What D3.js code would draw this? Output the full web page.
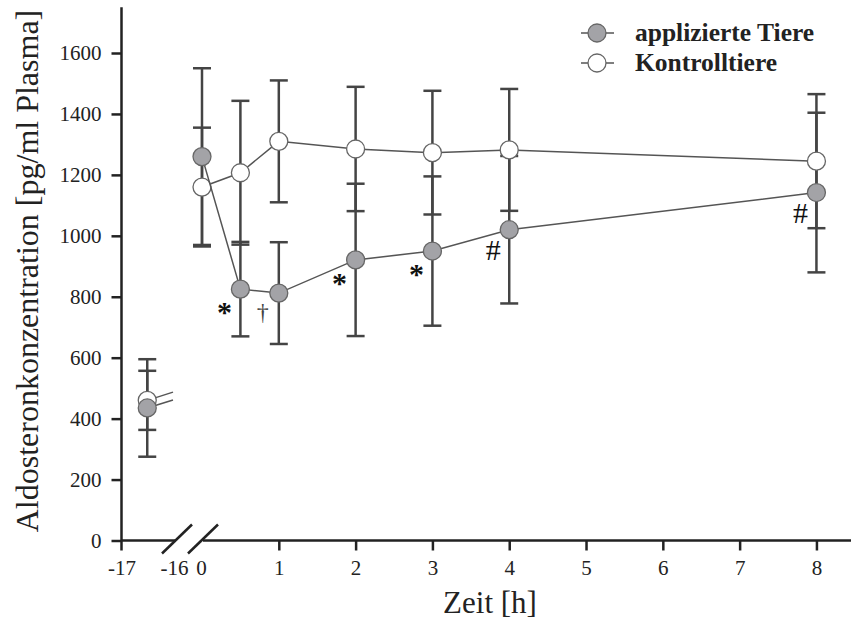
<!DOCTYPE html>
<html>
<head>
<meta charset="utf-8">
<script src="https://cdn.jsdelivr.net/npm/d3@7"></script>
<style>
  body { margin: 0; background: #fff; }
  svg text { font-family: "Liberation Serif", "Times New Roman", serif; fill: #222; }
  svg .tick text { font-size: 21px; }
</style>
</head>
<body>
<div id="chart"></div>
<script>
// time points after application (h)
const times = [0, 0.5, 1, 2, 3, 4, 8];
// applied animals: mean and error
const appliedMean = [1260, 825, 812, 921, 950, 1020, 1142];
const appliedErr = [290, 155, 167, 250, 245, 242, 262];
// control animals
const controlMean = [1160, 1207, 1310, 1285, 1273, 1282, 1245];
const controlErr = [195, 236, 200, 204, 203, 200, 220];

// baseline measurement 16.5 h before
const preTime = -16.5;
const appliedPre = [435, 160];
const controlPre = [460, 97];
// short stubs toward the axis break
const stubTime = -16;
const appliedStub = 461;
const controlStub = 487;

// significance marks on the applied series
const markTimes = [0.5, 1, 2, 3, 4, 8];
const markSymbols = ["*", "\u2020", "*", "*", "#", "#"];

const yTicks = [0, 200, 400, 600, 800, 1000, 1200, 1400, 1600];
const xTicksMain = [0, 1, 2, 3, 4, 5, 6, 7, 8];
const xTicksPre = [-17, -16];
const seriesNames = ["applizierte Tiere", "Kontrolltiere"];

function init() {
    const w = 851, h = 630;

    var svg = d3.select("#chart").append("svg")
        .attr("width", w)
        .attr("height", h);

    var y = d3.scaleLinear().domain([0, 1750]).range([540.5, 7.3]);
    var xPre = d3.scaleLinear().domain([-17, -16]).range([121.5, 173]);
    var xMain = d3.scaleLinear().domain([0, 8.45]).range([202, 851]);

    var axisColor = "#222";
    var fmt = function (d) { return String(d); };

    // y axis
    var gy = svg.append("g")
        .attr("transform", "translate(" + xPre(-17) + ",0)")
        .call(d3.axisLeft(y).tickValues(yTicks).tickSize(10).tickPadding(10).tickFormat(fmt));
    gy.select(".domain").remove();
    gy.append("line")
        .attr("y1", y(1750)).attr("y2", y(0) + 10)
        .attr("stroke", axisColor).attr("stroke-width", 2.5);
    gy.selectAll(".tick line").attr("stroke", axisColor).attr("stroke-width", 2.5);

    // x axis, two pieces with a break
    var gxPre = svg.append("g")
        .attr("transform", "translate(0," + y(0) + ")")
        .call(d3.axisBottom(xPre).tickValues(xTicksPre).tickSize(10).tickPadding(10).tickFormat(fmt));
    var gxMain = svg.append("g")
        .attr("transform", "translate(0," + y(0) + ")")
        .call(d3.axisBottom(xMain).tickValues(xTicksMain).tickSize(10).tickPadding(10).tickFormat(fmt));
    [gxPre, gxMain].forEach(function (g) {
        g.select(".domain").remove();
        g.selectAll(".tick line").attr("stroke", axisColor).attr("stroke-width", 2.5)
            .filter(function (d) { return d === -16 || d === 0 || d === -17; }).remove();
    });
    gxPre.selectAll(".tick text").filter(function (d) { return d === -16; }).attr("dx", 1);
    gxMain.selectAll(".tick text").filter(function (d) { return d === 0; }).attr("dx", -1);

    var gx = svg.append("g").attr("transform", "translate(0," + y(0) + ")");
    gx.append("line").attr("x1", xPre(-17)).attr("x2", 176)
        .attr("stroke", axisColor).attr("stroke-width", 2.5);
    gx.append("line").attr("x1", 203).attr("x2", w)
        .attr("stroke", axisColor).attr("stroke-width", 2.5);
    // break marks
    [177, 203].forEach(function (cx) {
        gx.append("line")
            .attr("x1", cx - 15).attr("y1", 13)
            .attr("x2", cx + 15).attr("y2", -16)
            .attr("stroke", axisColor).attr("stroke-width", 2.5);
    });

    // axis titles
    svg.append("text")
        .attr("transform", "translate(38,271) rotate(-90)")
        .attr("text-anchor", "middle")
        .style("font-size", "32px")
        .text("Aldosteronkonzentration [pg/ml Plasma]");
    svg.append("text")
        .attr("x", 490).attr("y", 613)
        .attr("text-anchor", "middle")
        .style("font-size", "31px")
        .text("Zeit [h]");

    // rows for drawing
    var rowsA = times.map(function (t, i) { return { x: xMain(t), m: appliedMean[i], e: appliedErr[i] }; });
    var rowsC = times.map(function (t, i) { return { x: xMain(t), m: controlMean[i], e: controlErr[i] }; });
    rowsA.push({ x: xPre(preTime), m: appliedPre[0], e: appliedPre[1] });
    rowsC.push({ x: xPre(preTime), m: controlPre[0], e: controlPre[1] });

    // error bars
    var eb = svg.append("g").attr("stroke", "#444").attr("stroke-width", 2.5);
    rowsA.concat(rowsC).forEach(function (d) {
        eb.append("line").attr("x1", d.x).attr("x2", d.x)
            .attr("y1", y(d.m - d.e)).attr("y2", y(d.m + d.e));
        [d.m - d.e, d.m + d.e].forEach(function (v) {
            eb.append("line").attr("x1", d.x - 9).attr("x2", d.x + 9)
                .attr("y1", y(v)).attr("y2", y(v));
        });
    });

    var line = d3.line()
        .x(function (d, i) { return xMain(times[i]); })
        .y(function (d) { return y(d); });

    var fills = ["#a3a3a7", "#ffffff"];
    var stroke = "#666";

    function drawSeries(means, pre, stub, fill) {
        svg.append("path").datum(means)
            .attr("d", line)
            .attr("fill", "none").attr("stroke", "#555").attr("stroke-width", 1.5);
        svg.append("line")
            .attr("x1", xPre(preTime)).attr("y1", y(pre[0]))
            .attr("x2", xPre(stubTime)).attr("y2", y(stub))
            .attr("stroke", "#555").attr("stroke-width", 1.5);
        svg.append("g").selectAll("circle")
            .data(means.map(function (m, i) { return [xMain(times[i]), m]; }).concat([[xPre(preTime), pre[0]]]))
            .enter().append("circle")
            .attr("cx", function (d) { return d[0]; })
            .attr("cy", function (d) { return y(d[1]); })
            .attr("r", 9)
            .attr("fill", fill).attr("stroke", stroke).attr("stroke-width", 1.3);
    }
    drawSeries(controlMean, controlPre, controlStub, fills[1]);
    drawSeries(appliedMean, appliedPre, appliedStub, fills[0]);

    // significance marks
    var symStyle = {
        "*": { size: 30, dy: 33, weight: "bold", color: "#111" },
        "#": { size: 30, dy: 30, weight: "normal", color: "#111" },
        "\u2020": { size: 24, dy: 27, weight: "normal", color: "#444" }
    };
    markTimes.forEach(function (t, i) {
        var s = symStyle[markSymbols[i]];
        var v = appliedMean[times.indexOf(t)];
        svg.append("text")
            .attr("x", xMain(t) - 16)
            .attr("y", y(v) + s.dy)
            .attr("text-anchor", "middle")
            .style("font-size", s.size + "px")
            .style("font-weight", s.weight)
            .style("fill", s.color)
            .text(markSymbols[i]);
    });

    // legend
    var lg = svg.append("g");
    seriesNames.forEach(function (name, i) {
        var cy = 33 + i * 30;
        lg.append("line").attr("x1", 581).attr("x2", 614).attr("y1", cy).attr("y2", cy)
            .attr("stroke", "#555").attr("stroke-width", 1.5);
        lg.append("circle").attr("cx", 597).attr("cy", cy).attr("r", 9)
            .attr("fill", fills[i]).attr("stroke", stroke).attr("stroke-width", 1.3);
        lg.append("text").attr("x", 635).attr("y", cy + 8)
            .style("font-size", "25.5px").style("font-weight", "bold")
            .text(name);
    });
}
window.onload = init;
</script>
</body>
</html>
